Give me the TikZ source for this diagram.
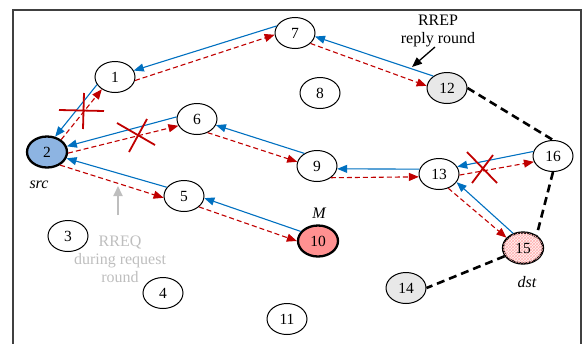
\documentclass[tikz,border=0pt]{standalone}
\usepackage{fontspec}
\setmainfont{Liberation Serif}
\usetikzlibrary{arrows.meta,patterns,shapes.geometric}
\definecolor{cblue}{RGB}{0,112,192}
\definecolor{cred}{RGB}{192,0,0}
\definecolor{srcfill}{RGB}{141,180,226}
\definecolor{malfill}{RGB}{255,145,145}
\definecolor{grayfill}{RGB}{232,232,232}
\definecolor{notegray}{RGB}{190,190,190}
\definecolor{framegray}{RGB}{64,64,64}
\begin{document}
\begin{tikzpicture}[x=1pt,y=-1pt,
  nd/.style={draw, ellipse, minimum width=40pt, minimum height=31pt, inner sep=0pt, line width=1pt, font=\fontsize{15.5}{17}\selectfont},
  boldnd/.style={line width=2.3pt},
  rep/.style={cblue, line width=1.1pt, -{Triangle[length=10pt,width=8pt]}},
  req/.style={cred, line width=1.1pt, dash pattern=on 5pt off 3pt, -{Triangle[length=10pt,width=8pt]}},
  lnk/.style={black, line width=2.6pt, dash pattern=on 8pt off 5pt},
  xmark/.style={cred, line width=1.8pt},
  lbl/.style={font=\fontsize{16}{18}\selectfont},
  ital/.style={font=\fontsize{16}{18}\selectfont\itshape}]
\useasboundingbox (0,0) rectangle (585,343);
\draw[line width=1.8pt, framegray] (13,345) -- (13,10) -- (581,10) -- (581,345);

% nodes
\node[nd] (n1) at (115,77) {1};
\node[nd, boldnd, fill=srcfill] (n2) at (47,152) {2};
\node[nd] (n3) at (68,236) {3};
\node[nd] (n4) at (163,293) {4};
\node[nd] (n5) at (184,196) {5};
\node[nd] (n6) at (197,119) {6};
\node[nd] (n7) at (295,33) {7};
\node[nd] (n8) at (320,93) {8};
\node[nd] (n9) at (317,166) {9};
\node[nd, boldnd, fill=malfill] (n10) at (318,241) {10};
\node[nd] (n11) at (287,319) {11};
\node[nd, fill=grayfill] (n12) at (447,88) {12};
\node[nd] (n13) at (439,174) {13};
\node[nd, fill=grayfill] (n14) at (406,288) {14};
\node[nd, boldnd, fill=red!5, postaction={pattern=crosshatch, pattern color=red!30}] (n15) at (523,248) {};
\node[font=\fontsize{15.5}{17}\selectfont] (n15t) at (n15) {15};
\node[nd] (n16) at (553,156) {16};

% reply (blue)
\draw[rep] (n7.159) -- (n1.19);
\draw[rep] (n12.139) -- (n7.350);
\draw[rep] (n1.203) -- (n2.62);
\draw[rep] (n6.174) -- (n2.16);
\draw[rep] (n9.135) -- (n6.342);
\draw[rep] (n5.153) -- (n2.342);
\draw[rep] (n10.151) -- (n5.354);
\draw[rep] (n13.166) -- (n9.352);
\draw[rep] (n16.167) -- (n13.22);
\draw[rep] (n15.124) -- (n13.335);

% request (red dashed)
\draw[req] (n1.350) -- (n7.185);
\draw[req] (n7.326) -- (n12.174);
\draw[req] (n2.41) -- (n1.223);
\draw[req] (n2.357) -- (n6.200);
\draw[req] (n6.308) -- (n9.168);
\draw[req] (n2.315) -- (n5.185);
\draw[req] (n5.324) -- (n10.180);
\draw[req] (n9.320) -- (n13.188);
\draw[req] (n13.357) -- (n16.197);
\draw[req] (n13.303) -- (n15.148);

% links
\draw[lnk] (n12.east) -- (n16.north);
\draw[lnk] (n16.south) -- (n15.43);
\draw[lnk] (n15.204) -- (n14.east);

% crosses
\draw[xmark] (59,110) -- (104,111) (84,93) -- (83,129);
\draw[xmark] (117,123) -- (155,145) (129,152) -- (147,119);
\draw[xmark] (467,152) -- (497,183) (493,155) -- (472,183);

% labels
\node[ital] (lsrc) at (39,185) {src};
\node[ital] (lm) at (319,213) {M};
\node[ital] (ldst) at (527,282) {dst};
\node[lbl, align=center, inner sep=0pt] (rrep) at (438,31) {RREP\\reply round};
\node[lbl, align=center, text=notegray, inner sep=0pt] (rreq) at (120,259) {RREQ\\during request\\round};
\coordinate (repA) at (435,47);
\coordinate (repB) at (412,67);
\draw[black, line width=1.3pt, -{Triangle[length=10pt,width=8pt]}] (repA) -- (repB);
\coordinate (reqA) at (118,215);
\coordinate (reqB) at (118,186);
\draw[notegray, line width=2pt, -{Triangle[length=10pt,width=9pt]}] (reqA) -- (reqB);
\end{tikzpicture}
\end{document}
